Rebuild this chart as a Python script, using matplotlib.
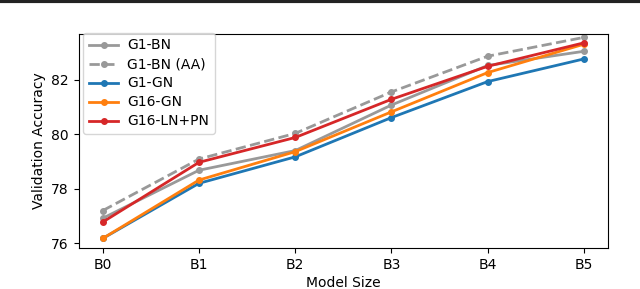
import numpy as np
import matplotlib.pyplot as plt
from matplotlib.lines import Line2D

# Model sizes on the x axis
sizes = ["B0", "B1", "B2", "B3", "B4", "B5"]

# Validation accuracy
g1_bn = [76.92, 78.68, 79.40, 81.07, 82.52, 83.04]
g1_bn_aa = [77.20, 79.09, 80.03, 81.55, 82.86, 83.55]
g1_gn = [76.18, 78.20, 79.17, 80.61, 81.93, 82.76]
g16_gn = [76.18, 78.32, 79.36, 80.82, 82.26, 83.30]
g16_ln_pn = [76.78, 78.97, 79.88, 81.28, 82.49, 83.35]

x = np.arange(len(sizes))

fig = plt.figure(figsize=(6.4, 2.89), dpi=100)
ax = fig.add_axes([0.123, 0.142, 0.827, 0.740])

lw = 2.0
ms = 4
ax.plot(x, g1_bn, "o-", color="#999999", lw=lw, ms=ms, label="G1-BN")
ax.plot(x, g1_bn_aa, "o--", color="#999999", lw=lw, ms=ms, label="G1-BN (AA)")
ax.plot(x, g1_gn, "o-", color="#1f77b4", lw=lw, ms=ms, label="G1-GN")
ax.plot(x, g16_gn, "o-", color="#ff7f0e", lw=lw, ms=ms, label="G16-GN")
ax.plot(x, g16_ln_pn, "o-", color="#d62728", lw=lw, ms=ms, label="G16-LN+PN")

ax.set_xticks(x)
ax.set_xticklabels(sizes)
ax.set_yticks([76, 78, 80, 82])
ax.set_xlim(-0.25, 5.25)
ax.set_ylim(75.83, 83.67)
ax.set_xlabel("Model Size", labelpad=3)
ax.set_ylabel("Validation Accuracy")
ax.legend(loc="upper left", bbox_to_anchor=(0.009, 1.006), borderaxespad=0,
          fontsize=10, labelspacing=0.36, handlelength=2.1, handletextpad=0.65)

# dark rule across the top of the page
fig.add_artist(Line2D([0, 1], [0.997, 0.997], transform=fig.transFigure,
                      color="#222222", lw=3))

fig.savefig("out.png", dpi=100)
